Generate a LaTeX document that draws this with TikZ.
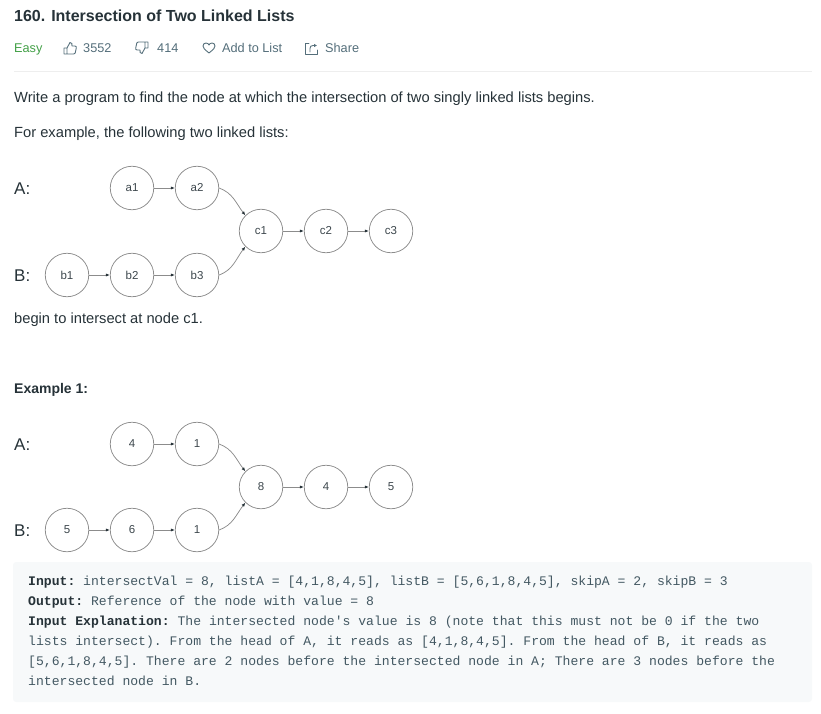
\documentclass[tikz,border=0pt]{standalone}
\usepackage{fontspec}
\setmainfont{Liberation Sans}
\setmonofont{Liberation Mono}
\usetikzlibrary{arrows.meta}
\definecolor{ink}{HTML}{263238}
\definecolor{grey}{HTML}{546E7A}
\definecolor{easy}{HTML}{43A047}
\definecolor{rule}{HTML}{EEEEEE}
\definecolor{codebg}{HTML}{F7F9FA}
\definecolor{ring}{HTML}{8C8C8C}
\newcommand{\fsize}[1]{\fontsize{#1}{#1}\selectfont}
\newcommand{\thumb}[1]{\draw[icon,#1] (0,6) rectangle (3,12)
  (3,6) -- (6,0.5) .. controls (7.8,0.5) and (8.4,2) .. (8,4) -- (11,4)
  .. controls (12,4) and (12.6,5) .. (12.3,6) -- (11.2,11)
  .. controls (11,11.7) and (10.5,12) .. (9.8,12) -- (3,12);}

\begin{document}
\begin{tikzpicture}[x=1pt,y=-1pt]
    \tikzset{%
      lnode/.style={circle, draw=ring, line width=0.75pt, inner sep=0pt,
        minimum size=43.5pt, text=ink!90, font=\fsize{11.5}},
      link/.style={draw=ring, line width=0.75pt,
        -{Latex[length=4pt,width=3.2pt,color=ink]}},
      txt/.style={anchor=base west, inner sep=0pt, text=ink, font=\fsize{14.7}},
      meta/.style={anchor=base west, inner sep=0pt, text=grey, font=\fsize{12.7}},
      list/.style={anchor=base west, inner sep=0pt, text=ink, font=\fsize{17}},
      code/.style={anchor=base west, inner sep=0pt, text=grey!80!black,
        font=\ttfamily\fsize{13.1}},
      icon/.style={draw=grey, line width=0.9pt, line join=round, line cap=round},
    }
    \useasboundingbox (0,0) rectangle (821,714);

    % header
    \node[txt, font=\bfseries\fsize{16}] (title) at (14,22) {160. Intersection of Two Linked Lists};
    \node[meta, text=easy] (easy) at (14,52.5) {Easy};
    \thumb{shift={(64,42)}}
    \node[meta] (likes) at (83,52.5) {3552};
    \thumb{shift={(148,54)}, rotate=180}
    \node[meta] (dislikes) at (157,52.5) {414};
    \draw[icon] (209,53) .. controls (204,49) and (203,47.5) .. (203,46)
      .. controls (203,44) and (204.5,43) .. (206,43)
      .. controls (207.5,43) and (208.5,44) .. (209,45)
      .. controls (209.5,44) and (210.5,43) .. (212,43)
      .. controls (213.5,43) and (215,44) .. (215,46)
      .. controls (215,47.5) and (214,49) .. (209,53) -- cycle;
    \node[meta] (addlist) at (222,52.5) {Add to List};
    \draw[icon] (309,43.5) -- (305.5,43.5) -- (305.5,54) -- (317,54) -- (317,50);
    \draw[icon, -{Latex[length=3pt,width=3.5pt]}] (310,52) -- (310,48.5)
      .. controls (310,46.5) and (311,45.5) .. (313,45.5) -- (317,45.5);
    \node[meta] (share) at (325,52.5) {Share};
    \draw[rule, line width=1pt] (14,72) -- (812,72);

    \node[txt] (intro) at (14,103) {Write a program to find the node at which the intersection of two singly linked lists begins.};
    \node[txt] (forex) at (14,138) {For example, the following two linked lists:};

    % first pair of lists
    \node[list] (labA) at (14,194) {A:};
    \node[list] (labB) at (14,281) {B:};
    \node[lnode] (a1) at (132,188) {a1};
    \node[lnode] (a2) at (197,188) {a2};
    \node[lnode] (c1) at (261,231) {c1};
    \node[lnode] (c2) at (326,231) {c2};
    \node[lnode] (c3) at (391,231) {c3};
    \node[lnode] (b1) at (67,275) {b1};
    \node[lnode] (b2) at (132,275) {b2};
    \node[lnode] (b3) at (197,275) {b3};
    \draw[link] (a1) -- (a2);
    \draw[link] (a2.east) to[out=-20,in=128] (c1.north west);
    \draw[link] (b1) -- (b2);
    \draw[link] (b2) -- (b3);
    \draw[link] (b3.east) to[out=20,in=-128] (c1.south west);
    \draw[link] (c1) -- (c2);
    \draw[link] (c2) -- (c3);

    \node[txt] (begin) at (14,323) {begin to intersect at node c1.};
    \node[txt, font=\bfseries\fsize{14}] (example) at (14,393) {Example 1:};

    % example lists
    \node[list] (exA) at (14,450) {A:};
    \node[list] (exB) at (14,536) {B:};
    \node[lnode] (xa1) at (132,444) {4};
    \node[lnode] (xa2) at (197,444) {1};
    \node[lnode] (xc1) at (261,487) {8};
    \node[lnode] (xc2) at (326,487) {4};
    \node[lnode] (xc3) at (391,487) {5};
    \node[lnode] (xb1) at (67,530) {5};
    \node[lnode] (xb2) at (132,530) {6};
    \node[lnode] (xb3) at (197,530) {1};
    \draw[link] (xa1) -- (xa2);
    \draw[link] (xa2.east) to[out=-20,in=128] (xc1.north west);
    \draw[link] (xb1) -- (xb2);
    \draw[link] (xb2) -- (xb3);
    \draw[link] (xb3.east) to[out=20,in=-128] (xc1.south west);
    \draw[link] (xc1) -- (xc2);
    \draw[link] (xc2) -- (xc3);

    % input / output box
    \fill[codebg, rounded corners=3pt] (13,562) rectangle (812,702);
    \node[code] (in) at (28,585) {\textbf{\color{ink}Input:} intersectVal = 8, listA = [4,1,8,4,5], listB = [5,6,1,8,4,5], skipA = 2, skipB = 3};
    \node[code] (out) at (28,605) {\textbf{\color{ink}Output:} Reference of the node with value = 8};
    \node[code] (expl) at (28,625) {\textbf{\color{ink}Input Explanation:} The intersected node\textquotesingle s value is 8 (note that this must not be 0 if the two};
    \node[code] (expl2) at (28,645) {lists intersect). From the head of A, it reads as [4,1,8,4,5]. From the head of B, it reads as};
    \node[code] (expl3) at (28,665) {[5,6,1,8,4,5]. There are 2 nodes before the intersected node in A; There are 3 nodes before the};
    \node[code] (expl4) at (28,685) {intersected node in B.};
\end{tikzpicture}
\end{document}
